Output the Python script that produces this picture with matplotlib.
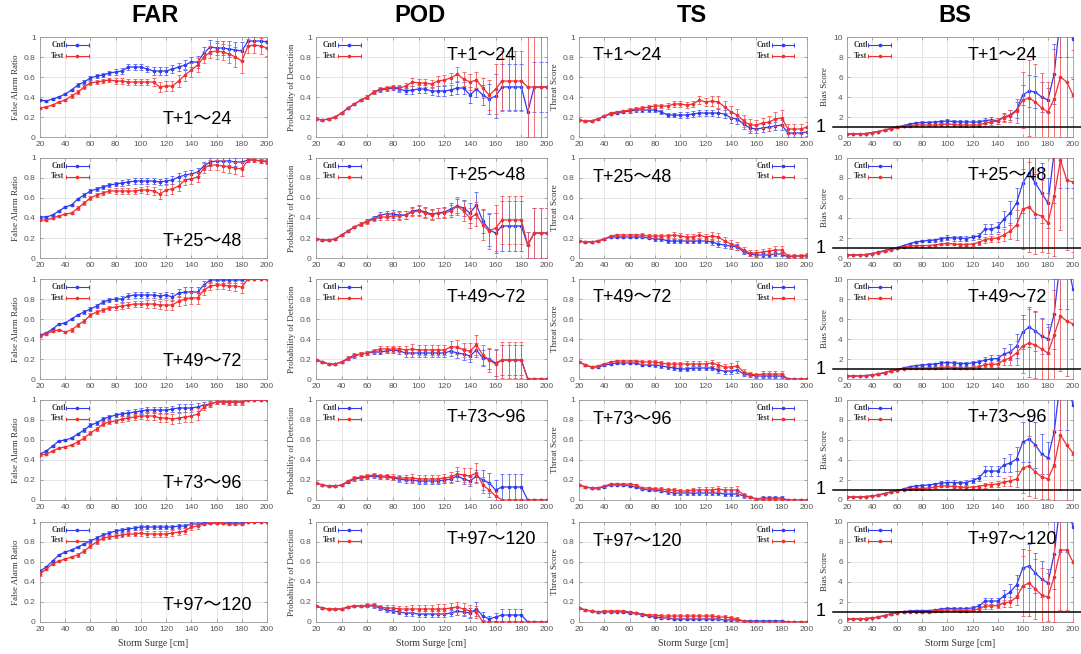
import matplotlib
matplotlib.use('Agg')
import matplotlib.pyplot as plt
import matplotlib.transforms as mtrans

# ---------------- data ----------------
surge_cm = list(range(20, 201, 5))
lead_labels = ['T+1～24', 'T+25～48', 'T+49～72', 'T+73～96', 'T+97～120']
metric_titles = ['FAR', 'POD', 'TS', 'BS']
metric_ylabels = ['False Alarm Ratio', 'Probability of Detection', 'Threat Score', 'Bias Score']
series_names = ['Cntl', 'Test']

far_cntl = [
    [0.37,0.36,0.38,0.40,0.43,0.47,0.52,0.55,0.59,0.61,0.62,0.64,0.65,0.66,0.70,0.70,0.70,0.68,0.66,0.66,0.66,0.68,0.70,0.72,0.75,0.75,0.84,0.90,0.89,0.89,0.88,0.87,0.86,0.96,0.96,0.96,0.95],
    [0.41,0.41,0.43,0.47,0.51,0.53,0.59,0.63,0.67,0.69,0.71,0.73,0.74,0.75,0.76,0.77,0.77,0.77,0.77,0.76,0.77,0.78,0.81,0.83,0.84,0.86,0.92,0.96,0.97,0.97,0.97,0.96,0.96,0.98,0.98,0.97,0.97],
    [0.44,0.46,0.50,0.55,0.56,0.60,0.64,0.67,0.70,0.73,0.77,0.79,0.80,0.80,0.83,0.84,0.84,0.84,0.84,0.83,0.84,0.82,0.86,0.87,0.87,0.87,0.94,0.99,0.99,0.99,0.99,0.99,0.99,1.00,1.00,1.00,1.00],
    [0.46,0.49,0.54,0.59,0.60,0.62,0.66,0.70,0.75,0.77,0.81,0.83,0.85,0.86,0.87,0.88,0.89,0.90,0.90,0.90,0.90,0.91,0.92,0.92,0.92,0.93,0.95,0.96,0.98,0.98,0.98,0.98,0.98,1.00,1.00,1.00,1.00],
    [0.51,0.55,0.61,0.67,0.70,0.72,0.75,0.78,0.81,0.84,0.87,0.89,0.91,0.92,0.93,0.94,0.95,0.95,0.95,0.95,0.95,0.95,0.96,0.96,0.98,0.98,0.99,0.99,0.99,0.99,0.99,0.99,0.99,1.00,1.00,1.00,1.00],
]
far_test = [
    [0.29,0.30,0.32,0.35,0.37,0.41,0.45,0.50,0.54,0.55,0.56,0.57,0.56,0.56,0.55,0.55,0.55,0.55,0.55,0.50,0.51,0.51,0.56,0.62,0.67,0.72,0.80,0.85,0.86,0.85,0.83,0.80,0.76,0.91,0.92,0.91,0.89],
    [0.38,0.38,0.40,0.42,0.44,0.45,0.50,0.55,0.60,0.63,0.65,0.67,0.67,0.67,0.67,0.67,0.68,0.68,0.67,0.64,0.68,0.69,0.72,0.78,0.79,0.81,0.90,0.93,0.93,0.92,0.91,0.90,0.89,0.98,0.98,0.97,0.96],
    [0.43,0.45,0.48,0.49,0.47,0.49,0.54,0.58,0.64,0.67,0.69,0.71,0.72,0.73,0.74,0.75,0.75,0.75,0.75,0.74,0.74,0.74,0.78,0.80,0.81,0.81,0.89,0.93,0.94,0.94,0.93,0.93,0.92,1.00,1.00,1.00,1.00],
    [0.45,0.46,0.49,0.52,0.53,0.55,0.58,0.62,0.67,0.71,0.76,0.78,0.79,0.81,0.82,0.83,0.84,0.84,0.84,0.82,0.82,0.81,0.82,0.83,0.84,0.86,0.93,0.96,0.98,0.98,0.98,0.98,0.98,1.00,1.00,1.00,1.00],
    [0.48,0.53,0.58,0.61,0.63,0.65,0.67,0.71,0.76,0.80,0.84,0.85,0.86,0.87,0.88,0.88,0.89,0.88,0.88,0.88,0.88,0.89,0.90,0.91,0.95,0.96,0.98,0.99,0.99,0.99,0.98,0.98,0.98,1.00,1.00,1.00,1.00],
]
far_cntl_err = [
    [.01,.01,.01,.01,.01,.01,.02,.02,.02,.02,.02,.02,.03,.03,.03,.03,.03,.03,.04,.04,.04,.04,.04,.05,.05,.06,.06,.07,.07,.07,.08,.08,.09,.05,.05,.05,.06],
    [.01,.01,.01,.01,.01,.01,.01,.02,.02,.02,.02,.02,.02,.03,.03,.03,.03,.03,.03,.03,.03,.04,.04,.04,.04,.04,.04,.04,.04,.04,.04,.04,.05,.02,.02,.02,.02],
    [.01,.01,.01,.01,.01,.01,.01,.02,.02,.02,.02,.02,.02,.03,.03,.03,.03,.03,.03,.03,.03,.04,.04,.05,.05,.05,.04,.03,.03,.03,.03,.03,.03,0,0,0,0],
    [.01,.01,.01,.01,.01,.01,.01,.02,.02,.02,.02,.02,.02,.02,.03,.03,.03,.03,.03,.03,.03,.03,.04,.04,.04,.04,.03,.03,.02,.02,.03,.03,.03,0,0,0,0],
    [.01,.01,.01,.01,.01,.01,.01,.01,.02,.02,.02,.02,.02,.02,.02,.02,.02,.02,.02,.02,.02,.02,.02,.02,.02,.02,.01,.01,.01,.01,.01,.01,.01,0,0,0,0],
]
far_test_err = [
    [.01,.01,.01,.01,.01,.02,.02,.02,.02,.02,.02,.02,.03,.03,.03,.03,.03,.03,.04,.05,.05,.05,.06,.06,.07,.07,.06,.06,.08,.08,.09,.10,.12,.07,.08,.08,.08],
    [.01,.01,.01,.01,.01,.01,.02,.02,.02,.02,.02,.02,.03,.03,.03,.03,.03,.04,.04,.05,.05,.05,.05,.05,.05,.05,.05,.05,.05,.06,.06,.06,.07,.02,.02,.02,.02],
    [.01,.01,.01,.01,.01,.02,.02,.02,.02,.02,.02,.02,.03,.03,.03,.03,.03,.04,.04,.04,.05,.05,.05,.06,.06,.06,.05,.04,.04,.04,.04,.05,.06,0,0,0,0],
    [.01,.01,.01,.01,.01,.01,.02,.02,.02,.02,.02,.02,.02,.03,.03,.03,.03,.04,.04,.04,.04,.05,.05,.05,.06,.06,.03,.02,.02,.02,.02,.02,.02,0,0,0,0],
    [.02,.01,.01,.01,.01,.01,.02,.02,.02,.02,.02,.02,.02,.02,.02,.02,.03,.03,.03,.03,.03,.03,.03,.03,.03,.03,.01,.01,.01,.01,.01,.01,.01,0,0,0,0],
]

pod_cntl = [
    [0.18,0.17,0.18,0.20,0.24,0.29,0.33,0.37,0.40,0.45,0.47,0.48,0.49,0.48,0.46,0.47,0.48,0.48,0.46,0.46,0.46,0.47,0.49,0.49,0.42,0.48,0.42,0.38,0.41,0.50,0.50,0.50,0.50,0.25,0.50,0.50,0.50],
    [0.19,0.18,0.18,0.19,0.23,0.27,0.31,0.34,0.37,0.40,0.43,0.44,0.44,0.43,0.43,0.47,0.48,0.46,0.44,0.45,0.46,0.49,0.52,0.50,0.45,0.53,0.37,0.28,0.25,0.32,0.32,0.32,0.32,0.13,0.25,0.25,0.25],
    [0.19,0.17,0.15,0.15,0.17,0.20,0.23,0.25,0.26,0.27,0.27,0.28,0.29,0.28,0.26,0.26,0.26,0.26,0.26,0.26,0.26,0.28,0.26,0.25,0.23,0.29,0.21,0.20,0.16,0.19,0.19,0.19,0.19,0.00,0.00,0.00,0.00],
    [0.17,0.15,0.14,0.14,0.15,0.18,0.21,0.22,0.23,0.24,0.23,0.23,0.22,0.21,0.20,0.20,0.19,0.19,0.19,0.19,0.20,0.21,0.24,0.21,0.19,0.24,0.20,0.17,0.10,0.13,0.13,0.13,0.13,0.00,0.00,0.00,0.00],
    [0.16,0.14,0.13,0.13,0.13,0.15,0.16,0.16,0.16,0.16,0.14,0.12,0.11,0.10,0.09,0.09,0.08,0.08,0.08,0.08,0.08,0.09,0.11,0.10,0.09,0.13,0.06,0.03,0.05,0.07,0.07,0.07,0.07,0.00,0.00,0.00,0.00],
]
pod_test = [
    [0.18,0.17,0.18,0.20,0.24,0.29,0.33,0.37,0.40,0.45,0.48,0.49,0.50,0.49,0.51,0.55,0.54,0.54,0.53,0.56,0.57,0.59,0.63,0.58,0.55,0.57,0.49,0.42,0.48,0.56,0.56,0.56,0.56,0.50,0.50,0.50,0.50],
    [0.19,0.18,0.18,0.19,0.23,0.27,0.31,0.34,0.36,0.39,0.41,0.41,0.42,0.42,0.43,0.46,0.47,0.45,0.43,0.45,0.45,0.47,0.52,0.47,0.40,0.44,0.33,0.27,0.30,0.38,0.38,0.38,0.38,0.13,0.25,0.25,0.25],
    [0.19,0.17,0.15,0.15,0.17,0.21,0.24,0.25,0.26,0.28,0.30,0.30,0.30,0.30,0.29,0.30,0.29,0.29,0.29,0.29,0.29,0.32,0.32,0.29,0.28,0.34,0.24,0.19,0.15,0.19,0.19,0.19,0.19,0.00,0.00,0.00,0.00],
    [0.17,0.15,0.14,0.14,0.15,0.19,0.22,0.23,0.24,0.25,0.24,0.24,0.23,0.22,0.22,0.22,0.21,0.21,0.21,0.21,0.22,0.23,0.26,0.25,0.24,0.27,0.15,0.10,0.04,0.00,0.00,0.00,0.00,0.00,0.00,0.00,0.00],
    [0.16,0.14,0.13,0.13,0.13,0.15,0.16,0.16,0.17,0.17,0.15,0.14,0.14,0.13,0.13,0.13,0.13,0.13,0.13,0.13,0.13,0.14,0.15,0.13,0.11,0.10,0.00,0.00,0.00,0.00,0.00,0.00,0.00,0.00,0.00,0.00,0.00],
]
pod_cntl_err = [
    [.01,.01,.01,.01,.01,.01,.01,.01,.02,.02,.02,.02,.02,.03,.03,.04,.04,.04,.04,.05,.05,.05,.06,.06,.08,.08,.10,.15,.22,.23,.23,.23,.23,.25,.25,.25,.25],
    [.01,.01,.01,.01,.01,.01,.01,.02,.02,.02,.03,.03,.04,.04,.04,.04,.05,.05,.05,.05,.05,.06,.07,.08,.10,.13,.12,.16,.20,.25,.25,.25,.25,.13,.25,.25,.25],
    [.01,.01,.01,.01,.01,.01,.02,.02,.02,.02,.02,.02,.03,.03,.04,.04,.04,.04,.04,.04,.04,.05,.05,.06,.06,.07,.08,.10,.13,.15,.15,.15,.15,0,0,0,0],
    [.01,.01,.01,.01,.01,.01,.02,.02,.02,.02,.02,.02,.02,.03,.03,.03,.03,.03,.03,.03,.03,.04,.05,.05,.05,.06,.10,.10,.10,.13,.13,.13,.13,0,0,0,0],
    [.01,.01,.01,.01,.01,.01,.01,.01,.01,.02,.02,.02,.02,.02,.03,.03,.03,.03,.03,.03,.03,.03,.04,.04,.05,.07,.04,.03,.04,.06,.06,.06,.06,0,0,0,0],
]
pod_test_err = [
    [.01,.01,.01,.01,.01,.01,.01,.01,.02,.02,.02,.02,.02,.03,.03,.04,.04,.04,.04,.05,.05,.05,.07,.07,.08,.08,.10,.15,.25,.30,.30,.30,.30,.50,.50,.50,.50],
    [.01,.01,.01,.01,.01,.01,.01,.02,.02,.02,.03,.03,.04,.04,.04,.04,.05,.05,.05,.05,.05,.06,.09,.10,.10,.12,.15,.18,.23,.24,.24,.24,.24,.13,.25,.25,.25],
    [.01,.01,.01,.01,.01,.02,.02,.02,.02,.02,.03,.03,.03,.03,.04,.05,.05,.05,.05,.05,.05,.06,.07,.07,.08,.10,.10,.12,.15,.18,.18,.18,.18,0,0,0,0],
    [.01,.01,.01,.01,.01,.01,.02,.02,.02,.02,.02,.02,.03,.03,.03,.04,.04,.04,.04,.04,.04,.05,.07,.07,.08,.10,.08,.07,.04,0,0,0,0,0,0,0,0],
    [.01,.01,.01,.01,.01,.01,.01,.01,.02,.02,.02,.03,.03,.03,.03,.04,.04,.04,.04,.05,.05,.05,.05,.06,.06,.06,0,0,0,0,0,0,0,0,0,0,0],
]

ts_cntl = [
    [0.17,0.16,0.16,0.18,0.21,0.23,0.24,0.25,0.26,0.27,0.27,0.27,0.27,0.25,0.22,0.22,0.22,0.22,0.23,0.24,0.24,0.24,0.24,0.23,0.19,0.18,0.13,0.09,0.08,0.09,0.10,0.11,0.12,0.04,0.04,0.04,0.05],
    [0.17,0.16,0.16,0.17,0.19,0.21,0.21,0.21,0.21,0.21,0.21,0.20,0.19,0.19,0.17,0.17,0.17,0.17,0.17,0.17,0.17,0.16,0.14,0.13,0.12,0.11,0.06,0.04,0.03,0.03,0.03,0.04,0.04,0.01,0.02,0.02,0.02],
    [0.17,0.14,0.12,0.12,0.14,0.15,0.16,0.16,0.16,0.16,0.14,0.14,0.14,0.13,0.12,0.11,0.10,0.10,0.11,0.11,0.11,0.11,0.09,0.08,0.08,0.09,0.05,0.04,0.03,0.03,0.03,0.03,0.03,0.00,0.00,0.00,0.00],
    [0.15,0.13,0.12,0.12,0.13,0.15,0.15,0.15,0.14,0.13,0.11,0.10,0.10,0.09,0.08,0.07,0.07,0.07,0.07,0.07,0.07,0.07,0.07,0.06,0.06,0.06,0.04,0.03,0.01,0.02,0.02,0.02,0.02,0.00,0.00,0.00,0.00],
    [0.14,0.12,0.11,0.10,0.10,0.10,0.10,0.10,0.09,0.09,0.07,0.06,0.05,0.04,0.04,0.03,0.03,0.03,0.03,0.03,0.03,0.03,0.03,0.02,0.02,0.02,0.01,0.01,0.01,0.01,0.01,0.01,0.01,0.00,0.00,0.00,0.00],
]
ts_test = [
    [0.17,0.16,0.16,0.18,0.21,0.24,0.25,0.26,0.27,0.28,0.29,0.30,0.31,0.31,0.31,0.33,0.33,0.32,0.33,0.37,0.35,0.36,0.35,0.30,0.25,0.22,0.16,0.12,0.12,0.14,0.15,0.18,0.19,0.08,0.08,0.08,0.10],
    [0.17,0.16,0.16,0.17,0.19,0.22,0.23,0.23,0.23,0.23,0.23,0.22,0.22,0.22,0.22,0.23,0.22,0.21,0.21,0.23,0.21,0.22,0.21,0.17,0.14,0.12,0.08,0.05,0.05,0.06,0.07,0.08,0.08,0.02,0.02,0.02,0.03],
    [0.17,0.14,0.12,0.13,0.15,0.17,0.18,0.18,0.18,0.18,0.17,0.17,0.17,0.16,0.15,0.15,0.15,0.15,0.15,0.15,0.15,0.16,0.14,0.12,0.12,0.13,0.07,0.05,0.04,0.05,0.05,0.05,0.05,0.00,0.00,0.00,0.00],
    [0.15,0.13,0.12,0.12,0.14,0.16,0.16,0.16,0.16,0.15,0.12,0.12,0.11,0.11,0.10,0.10,0.09,0.09,0.10,0.10,0.10,0.10,0.11,0.10,0.10,0.10,0.05,0.03,0.01,0.01,0.01,0.01,0.01,0.00,0.00,0.00,0.00],
    [0.14,0.12,0.11,0.10,0.11,0.11,0.11,0.11,0.10,0.09,0.08,0.07,0.07,0.06,0.06,0.06,0.06,0.06,0.06,0.06,0.06,0.06,0.05,0.05,0.04,0.03,0.01,0.00,0.00,0.00,0.00,0.00,0.00,0.00,0.00,0.00,0.00],
]
ts_cntl_err = [
    [.01,.01,.01,.01,.01,.01,.01,.01,.02,.02,.02,.02,.02,.02,.02,.02,.03,.03,.03,.03,.03,.03,.04,.04,.05,.05,.05,.05,.04,.04,.04,.04,.05,.04,.04,.04,.04],
    [.01,.01,.01,.01,.01,.01,.01,.01,.01,.01,.01,.01,.02,.02,.02,.02,.02,.02,.02,.02,.02,.03,.03,.03,.03,.03,.02,.02,.02,.02,.02,.02,.02,.01,.01,.01,.01],
    [.01,.01,.01,.01,.01,.01,.01,.01,.01,.01,.01,.01,.02,.02,.02,.02,.02,.02,.02,.02,.02,.02,.03,.03,.03,.03,.02,.02,.02,.02,.02,.02,.02,0,0,0,0],
    [.01,.01,.01,.01,.01,.01,.01,.01,.01,.01,.01,.01,.01,.01,.02,.02,.02,.02,.02,.02,.02,.02,.02,.02,.02,.02,.02,.01,.01,.02,.02,.02,.02,0,0,0,0],
    [.01,.01,.01,.01,.01,.01,.01,.01,.01,.01,.01,.01,.01,.01,.01,.01,.01,.01,.01,.01,.01,.01,.01,.01,.01,.01,.01,.01,.01,.01,.01,.01,.01,0,0,0,0],
]
ts_test_err = [
    [.01,.01,.01,.01,.01,.01,.01,.01,.02,.02,.02,.02,.02,.02,.03,.03,.03,.03,.03,.04,.04,.05,.06,.06,.06,.06,.06,.06,.05,.05,.06,.07,.08,.05,.05,.05,.05],
    [.01,.01,.01,.01,.01,.01,.01,.01,.01,.01,.02,.02,.02,.02,.02,.03,.03,.03,.03,.03,.03,.04,.04,.04,.04,.04,.03,.03,.03,.03,.03,.04,.04,.02,.02,.02,.02],
    [.01,.01,.01,.01,.01,.01,.01,.01,.01,.01,.02,.02,.02,.02,.02,.02,.02,.03,.03,.03,.03,.03,.03,.03,.04,.05,.03,.02,.02,.03,.03,.03,.03,0,0,0,0],
    [.01,.01,.01,.01,.01,.01,.01,.01,.01,.01,.01,.01,.02,.02,.02,.02,.02,.02,.02,.03,.03,.03,.03,.03,.03,.04,.02,.01,.01,.01,.01,.01,.01,0,0,0,0],
    [.01,.01,.01,.01,.01,.01,.01,.01,.01,.01,.01,.01,.01,.02,.02,.02,.02,.02,.02,.02,.02,.02,.02,.02,.02,.02,.01,0,0,0,0,0,0,0,0,0,0],
]

bs_cntl = [
    [0.30,0.30,0.30,0.35,0.45,0.55,0.70,0.85,1.00,1.15,1.30,1.40,1.45,1.45,1.50,1.55,1.60,1.55,1.50,1.50,1.50,1.50,1.65,1.70,1.65,2.00,2.20,2.70,4.20,4.60,4.50,4.00,3.70,6.30,12.0,12.0,9.80],
    [0.30,0.30,0.30,0.35,0.45,0.60,0.75,0.90,1.05,1.25,1.45,1.60,1.70,1.75,1.80,1.95,2.05,2.00,2.00,1.95,2.10,2.20,2.90,2.90,3.10,3.90,4.50,5.50,7.50,8.50,7.50,6.50,5.50,10.5,12.0,12.0,12.0],
    [0.30,0.30,0.30,0.35,0.40,0.50,0.65,0.80,0.95,1.10,1.25,1.35,1.40,1.45,1.50,1.60,1.65,1.60,1.55,1.55,1.60,1.70,1.90,2.00,2.05,2.50,2.70,3.30,4.70,5.20,4.80,4.30,4.00,6.50,12.0,12.0,9.00],
    [0.30,0.30,0.30,0.35,0.40,0.50,0.65,0.80,0.95,1.10,1.30,1.40,1.45,1.50,1.60,1.70,1.75,1.75,1.70,1.75,1.95,2.20,2.90,2.90,2.90,3.50,3.70,4.10,5.80,6.10,5.50,4.60,4.20,6.80,12.0,12.0,9.50],
    [0.30,0.30,0.30,0.35,0.40,0.50,0.65,0.80,0.95,1.05,1.10,1.15,1.15,1.15,1.20,1.30,1.35,1.35,1.30,1.35,1.40,1.60,2.10,2.10,2.10,2.60,3.00,3.70,5.40,5.60,4.90,4.30,3.90,6.80,12.0,12.0,9.50],
]
bs_test = [
    [0.30,0.30,0.30,0.35,0.45,0.55,0.70,0.85,1.00,1.10,1.15,1.20,1.20,1.20,1.20,1.25,1.30,1.25,1.20,1.20,1.20,1.20,1.40,1.50,1.60,1.95,2.10,2.60,3.70,3.90,3.50,2.90,2.50,3.80,6.00,5.50,4.20],
    [0.30,0.30,0.30,0.35,0.45,0.55,0.70,0.85,1.00,1.10,1.20,1.25,1.25,1.25,1.30,1.40,1.45,1.40,1.35,1.35,1.40,1.55,1.85,1.95,2.00,2.30,2.70,3.30,4.90,5.10,4.40,4.20,3.50,6.20,9.80,7.80,7.60],
    [0.30,0.30,0.30,0.35,0.40,0.50,0.65,0.80,0.95,1.05,1.10,1.10,1.10,1.10,1.10,1.15,1.20,1.15,1.10,1.10,1.15,1.20,1.45,1.45,1.50,1.90,2.10,2.60,3.30,3.60,3.40,3.00,2.60,4.40,6.30,5.80,5.50],
    [0.30,0.30,0.30,0.35,0.40,0.50,0.65,0.80,0.95,1.05,1.10,1.15,1.15,1.20,1.30,1.40,1.40,1.35,1.30,1.25,1.30,1.35,1.50,1.55,1.60,1.80,1.90,2.10,3.20,3.40,2.80,2.30,2.10,3.50,6.50,5.50,4.70],
    [0.30,0.30,0.30,0.35,0.40,0.50,0.65,0.80,0.95,1.00,1.05,1.05,1.05,1.05,1.10,1.15,1.20,1.20,1.15,1.15,1.20,1.30,1.60,1.60,1.65,1.90,2.00,2.50,3.60,3.90,3.30,2.70,2.50,4.50,7.20,7.20,6.00],
]
bs_cntl_err = [
    [.03,.03,.03,.03,.04,.05,.05,.06,.07,.08,.10,.10,.12,.12,.15,.18,.20,.20,.20,.20,.20,.25,.30,.30,.30,.40,.50,.80,1.0,1.6,1.6,1.5,1.2,3.0,4.0,4.0,4.0],
    [.03,.03,.03,.03,.04,.05,.05,.06,.07,.08,.10,.10,.12,.15,.15,.20,.25,.25,.25,.25,.25,.30,.50,.50,.50,.80,1.2,1.5,3.0,3.5,3.5,3.0,2.5,5.0,5.0,5.0,5.0],
    [.03,.03,.03,.03,.04,.05,.05,.06,.07,.08,.10,.10,.12,.12,.15,.18,.20,.20,.20,.20,.20,.25,.35,.40,.40,.60,.80,1.2,1.7,2.0,2.0,1.8,1.5,3.5,5.0,5.0,5.0],
    [.03,.03,.03,.03,.04,.05,.05,.06,.07,.08,.10,.10,.12,.15,.15,.20,.25,.25,.25,.25,.25,.30,.50,.50,.50,.70,.90,1.2,2.0,2.3,2.3,2.0,1.6,3.5,5.0,5.0,5.0],
    [.03,.03,.03,.03,.04,.05,.05,.06,.07,.08,.10,.10,.10,.10,.12,.15,.20,.20,.20,.20,.20,.25,.30,.30,.30,.60,.80,1.0,1.9,2.2,2.0,1.8,1.4,3.5,5.0,5.0,5.0],
]
bs_test_err = [
    [.03,.03,.03,.03,.04,.05,.05,.06,.07,.08,.08,.08,.10,.10,.12,.15,.15,.15,.15,.15,.15,.20,.25,.25,.30,.40,.60,1.2,2.8,3.8,3.8,3.5,3.0,5.0,6.0,5.5,4.5],
    [.03,.03,.03,.03,.04,.05,.05,.06,.07,.08,.08,.08,.10,.10,.10,.12,.12,.12,.12,.12,.15,.20,.30,.30,.40,.60,.80,1.5,4.0,4.5,4.0,3.6,3.0,6.0,7.0,7.0,7.0],
    [.03,.03,.03,.03,.04,.05,.05,.06,.07,.08,.08,.08,.10,.10,.10,.12,.12,.12,.12,.12,.12,.15,.20,.25,.30,.50,.70,1.2,2.7,3.4,3.3,3.0,2.6,4.5,5.5,5.5,5.5],
    [.03,.03,.03,.03,.04,.05,.05,.06,.07,.08,.08,.08,.10,.10,.10,.12,.12,.12,.12,.12,.15,.15,.25,.25,.30,.40,.50,.80,2.5,3.0,2.6,2.2,2.0,3.5,5.5,5.5,5.5],
    [.03,.03,.03,.03,.04,.05,.05,.06,.07,.08,.08,.08,.10,.10,.10,.12,.12,.12,.12,.12,.12,.15,.25,.25,.25,.35,.50,.80,3.0,3.3,3.0,2.7,2.4,4.5,6.0,6.0,6.0],
]

# ---------------- layout / style ----------------
W, H = 1081, 654
col_left = [40, 316, 579, 847]
col_w = [227, 231, 228, 226]
row_top = [37, 158, 279, 400, 522]
row_h = 100
title_x = [155, 420, 692, 955]

BLUE = '#2f3cf0'
RED = '#f03030'
SERIF = ['Liberation Serif', 'DejaVu Serif']
SANS = ['Liberation Sans', 'DejaVu Sans']
BIG = ['Liberation Sans', 'Noto Sans CJK JP', 'DejaVu Sans']

fig = plt.figure(figsize=(W / 100, H / 100), dpi=100)
fig.patch.set_facecolor('white')

metric_data = [
    (far_cntl, far_test, far_cntl_err, far_test_err),
    (pod_cntl, pod_test, pod_cntl_err, pod_test_err),
    (ts_cntl, ts_test, ts_cntl_err, ts_test_err),
    (bs_cntl, bs_test, bs_cntl_err, bs_test_err),
]
label_pos = [(0.54, 0.17), (0.565, 0.82), (0.06, 0.81), (0.535, 0.82)]
legend_x = [0.05, 0.03, 0.78, 0.03]

for c in range(4):
    fig.text(title_x[c] / W, 1 - 16 / H, metric_titles[c], ha='center', va='center',
             fontsize=17, fontweight='bold',
             family=['Liberation Sans Narrow', 'Liberation Sans', 'DejaVu Sans'])
    cntl_all, test_all, cerr_all, terr_all = metric_data[c]
    ymax = 10 if c == 3 else 1
    for r in range(5):
        ax = fig.add_axes([col_left[c] / W, 1 - (row_top[r] + row_h) / H,
                           col_w[c] / W, row_h / H])
        ax.errorbar(surge_cm, cntl_all[r], yerr=cerr_all[r], color=BLUE, lw=0.9,
                    ecolor='#5a64f2', elinewidth=0.6, capsize=1.4, capthick=0.6,
                    marker='o', ms=1.6, zorder=3)
        ax.errorbar(surge_cm, test_all[r], yerr=terr_all[r], color=RED, lw=0.9,
                    ecolor='#f25a5a', elinewidth=0.6, capsize=1.4, capthick=0.6,
                    marker='o', ms=1.6, zorder=4)
        ax.set_xlim(20, 200)
        ax.set_ylim(0, ymax)
        ax.set_xticks(range(20, 201, 20))
        if c == 3:
            ax.set_yticks(range(0, 11, 2))
            ax.set_yticklabels([str(v) for v in range(0, 11, 2)])
        else:
            yt = [0, 0.2, 0.4, 0.6, 0.8, 1.0]
            ax.set_yticks(yt)
            ax.set_yticklabels(['0', '0.2', '0.4', '0.6', '0.8', '1'])
        ax.grid(True, color='#dcdcdc', lw=0.5, zorder=0)
        ax.set_axisbelow(True)
        ax.tick_params(direction='in', length=2, width=0.5, labelsize=6,
                       labelcolor='#555555', color='#888888', top=True, right=True, pad=3)
        for lab in ax.get_xticklabels() + ax.get_yticklabels():
            lab.set_family(SANS)
        for s in ax.spines.values():
            s.set_color('#999999')
            s.set_linewidth(0.6)
        ax.set_ylabel(metric_ylabels[c], fontsize=6.5, family=SERIF, color='#333333', labelpad=3)
        if r == 4:
            ax.set_xlabel('Storm Surge [cm]', fontsize=7, family=SERIF, color='#333333', labelpad=4)

        # legend (gnuplot style)
        lx = legend_x[c]
        for k, (name, col) in enumerate(zip(series_names, [BLUE, RED])):
            yy = 0.92 - 0.105 * k
            ax.text(lx, yy, name, transform=ax.transAxes, fontsize=5.5, family=SERIF,
                    fontweight='bold', color='#333333', ha='left', va='center', zorder=6)
            x0 = lx + 0.065
            x1 = x0 + 0.1
            ax.plot([x0, x1], [yy, yy], transform=ax.transAxes, color=col, lw=0.8, zorder=6)
            ax.plot([x0, x1], [yy, yy], transform=ax.transAxes, color=col, lw=0,
                    marker='|', ms=3, mew=0.7, zorder=6)
            ax.plot([(x0 + x1) / 2], [yy], transform=ax.transAxes, color=col,
                    marker='o', ms=1.6, zorder=6)

        px, py = label_pos[c]
        ax.text(px, py, lead_labels[r], transform=ax.transAxes, fontsize=13,
                family=BIG, ha='left', va='center', color='black', zorder=7)

        if c == 3:
            tr = mtrans.blended_transform_factory(ax.transAxes, ax.transData)
            ax.plot([-0.06, 1.05], [1, 1], transform=tr, color='black', lw=1.1,
                    clip_on=False, zorder=8)
            ax.text(-0.115, 1, '1', transform=tr, fontsize=13, family=BIG,
                    ha='center', va='center', color='black')

fig.savefig('out.png', dpi=100, facecolor='white')
